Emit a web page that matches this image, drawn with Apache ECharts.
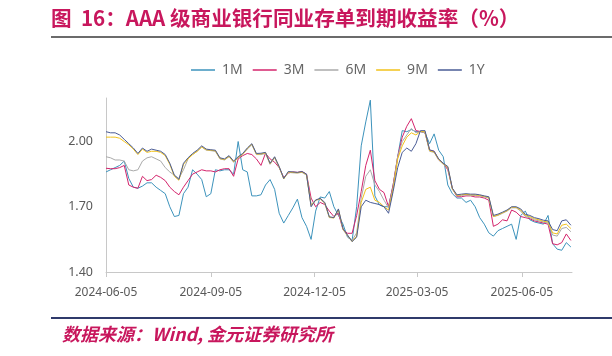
<!DOCTYPE html>
<html>
<head>
<meta charset="utf-8">
<script src="https://cdn.jsdelivr.net/npm/echarts@6/dist/echarts.min.js"></script>
<style>
html,body{margin:0;padding:0;background:#fff;}
#chart{width:612px;height:356px;}
</style>
</head>
<body>
<div id="chart"></div>
<script>
const titleText = '图  16：AAA 级商业银行同业存单到期收益率（%）';
const sourceText = '数据来源：Wind, 金元证券研究所';
const seriesNames = ['1M', '3M', '6M', '9M', '1Y'];
const xTickLabels = ['2024-06-05', '2024-09-05', '2024-12-05', '2025-03-05', '2025-06-05'];
const yTickLabels = [1.40, 1.70, 2.00];

const dates = [
'2024-06-05','2024-06-09','2024-06-13','2024-06-17','2024-06-21','2024-06-25','2024-06-29','2024-07-03','2024-07-07','2024-07-11',
'2024-07-15','2024-07-19','2024-07-23','2024-07-27','2024-07-31','2024-08-04','2024-08-08','2024-08-12','2024-08-16','2024-08-20',
'2024-08-24','2024-08-28','2024-09-01','2024-09-05','2024-09-09','2024-09-13','2024-09-17','2024-09-21','2024-09-25','2024-09-29',
'2024-10-03','2024-10-07','2024-10-11','2024-10-15','2024-10-19','2024-10-23','2024-10-27','2024-10-31','2024-11-04','2024-11-08',
'2024-11-12','2024-11-16','2024-11-20','2024-11-24','2024-11-28','2024-12-02','2024-12-06','2024-12-10','2024-12-14','2024-12-18',
'2024-12-22','2024-12-26','2024-12-30','2025-01-03','2025-01-07','2025-01-11','2025-01-15','2025-01-19','2025-01-23','2025-01-27',
'2025-01-31','2025-02-04','2025-02-08','2025-02-12','2025-02-16','2025-02-20','2025-02-24','2025-02-28','2025-03-04','2025-03-08',
'2025-03-12','2025-03-16','2025-03-20','2025-03-24','2025-03-28','2025-04-01','2025-04-05','2025-04-09','2025-04-13','2025-04-17',
'2025-04-21','2025-04-25','2025-04-29','2025-05-03','2025-05-07','2025-05-11','2025-05-15','2025-05-19','2025-05-23','2025-05-27',
'2025-05-31','2025-06-04','2025-06-08','2025-06-12','2025-06-16','2025-06-20','2025-06-24','2025-06-28','2025-07-02','2025-07-06',
'2025-07-10','2025-07-14','2025-07-18'
];

const m1 = [
1.86,1.87,1.88,1.89,1.91,1.83,1.79,1.785,1.795,1.81,
1.81,1.79,1.775,1.76,1.70,1.655,1.66,1.76,1.79,1.87,
1.85,1.825,1.746,1.76,1.87,1.865,1.87,1.87,1.85,2.00,
1.87,1.86,1.75,1.75,1.755,1.80,1.825,1.78,1.67,1.625,
1.66,1.695,1.735,1.65,1.61,1.55,1.68,1.745,1.74,1.77,
1.70,1.66,1.62,1.56,1.545,1.70,1.98,2.09,2.19,1.75,
1.708,1.70,1.70,1.80,1.93,2.05,2.045,2.055,2.045,2.046,
2.04,1.99,2.035,1.96,1.93,1.80,1.76,1.74,1.74,1.72,
1.73,1.70,1.65,1.62,1.58,1.565,1.59,1.60,1.61,1.62,
1.55,1.66,1.68,1.64,1.63,1.625,1.62,1.66,1.53,1.505,
1.50,1.535,1.515
];
const m3 = [
1.877,1.875,1.875,1.88,1.89,1.80,1.79,1.785,1.84,1.82,
1.825,1.845,1.835,1.82,1.79,1.77,1.755,1.79,1.82,1.85,
1.86,1.87,1.865,1.865,1.86,1.87,1.875,1.875,1.84,1.92,
1.935,1.945,1.94,1.92,1.89,1.946,1.92,1.905,1.88,1.835,
1.855,1.86,1.858,1.862,1.85,1.74,1.70,1.72,1.71,1.68,
1.655,1.67,1.595,1.578,1.578,1.66,1.77,1.89,1.96,1.82,
1.78,1.765,1.70,1.80,1.93,2.02,2.07,2.105,2.05,2.046,
2.04,1.96,1.955,1.915,1.90,1.87,1.785,1.746,1.746,1.75,
1.75,1.745,1.745,1.74,1.73,1.61,1.62,1.64,1.635,1.685,
1.675,1.655,1.65,1.645,1.635,1.63,1.625,1.62,1.53,1.525,
1.535,1.575,1.545
];
const m6 = [
1.93,1.925,1.915,1.915,1.91,1.87,1.865,1.87,1.91,1.925,
1.93,1.92,1.91,1.88,1.86,1.845,1.83,1.87,1.92,1.94,
1.955,1.975,1.96,1.958,1.955,1.92,1.915,1.93,1.905,1.925,
1.94,1.965,1.985,1.94,1.94,1.945,1.895,1.925,1.88,1.83,
1.858,1.856,1.855,1.858,1.845,1.71,1.73,1.735,1.715,1.65,
1.65,1.685,1.595,1.565,1.545,1.58,1.74,1.84,1.87,1.80,
1.77,1.73,1.695,1.79,1.93,2.00,2.03,2.06,2.04,2.045,
2.04,1.955,1.95,1.915,1.895,1.88,1.78,1.75,1.752,1.755,
1.752,1.752,1.75,1.745,1.74,1.655,1.66,1.67,1.68,1.695,
1.695,1.68,1.655,1.65,1.64,1.635,1.63,1.625,1.57,1.565,
1.60,1.605,1.585
];
const m9 = [
2.02,2.02,2.02,2.015,2.00,1.985,1.965,1.94,1.965,1.95,
1.955,1.955,1.95,1.935,1.895,1.84,1.822,1.895,1.92,1.94,
1.955,1.975,1.962,1.96,1.957,1.922,1.917,1.932,1.907,1.927,
1.942,1.967,1.988,1.942,1.943,1.948,1.898,1.928,1.883,1.828,
1.86,1.858,1.856,1.86,1.848,1.705,1.73,1.737,1.718,1.652,
1.648,1.688,1.598,1.568,1.54,1.565,1.72,1.78,1.79,1.73,
1.72,1.70,1.685,1.78,1.92,1.98,2.02,2.04,2.03,2.046,
2.045,1.958,1.952,1.918,1.898,1.882,1.782,1.752,1.755,1.757,
1.755,1.755,1.752,1.748,1.743,1.655,1.662,1.672,1.682,1.698,
1.697,1.685,1.66,1.655,1.645,1.64,1.633,1.63,1.58,1.575,
1.615,1.62,1.60
];
const y1 = [
2.045,2.04,2.04,2.03,2.01,1.99,1.97,1.945,1.97,1.955,
1.965,1.96,1.955,1.94,1.90,1.845,1.826,1.90,1.925,1.945,
1.96,1.98,1.965,1.962,1.96,1.925,1.92,1.935,1.91,1.93,
1.945,1.97,1.99,1.945,1.946,1.95,1.90,1.93,1.885,1.83,
1.862,1.86,1.858,1.862,1.85,1.70,1.731,1.739,1.72,1.654,
1.65,1.69,1.60,1.57,1.54,1.56,1.70,1.73,1.72,1.715,
1.71,1.70,1.67,1.77,1.88,1.95,1.97,1.955,1.99,2.05,
2.05,1.962,1.955,1.92,1.90,1.885,1.785,1.755,1.758,1.76,
1.758,1.758,1.755,1.75,1.746,1.66,1.666,1.675,1.685,1.70,
1.70,1.69,1.665,1.66,1.65,1.645,1.638,1.635,1.595,1.59,
1.635,1.64,1.615
];

const colors = ['#3D93BC', '#D4246C', '#AAAAAA', '#F2C21B', '#4A5C96'];

function ts(s) { const p = s.split('-').map(Number); return new Date(p[0], p[1] - 1, p[2]).getTime(); }
function pad(n) { return (n < 10 ? '0' : '') + n; }
const seriesData = [m1, m3, m6, m9, y1];
const xTickValues = xTickLabels.map(ts);

const chart = echarts.init(document.getElementById('chart'), null, { renderer: 'canvas' });
const option = {
  animation: false,
  backgroundColor: '#ffffff',
  color: colors,
  grid: { left: 106, right: 40, top: 98, bottom: 84 },
  legend: {
    data: seriesNames,
    icon: 'rect',
    left: 186, top: 58,
    itemWidth: 24, itemHeight: 1.5, itemGap: 10,
    textStyle: { color: '#666666', fontSize: 14, fontFamily: 'Noto Sans', padding: [0, 0, 0, 2] }
  },
  xAxis: {
    type: 'value',
    min: ts('2024-06-05'),
    max: ts('2025-07-19'),
    axisLine: { lineStyle: { color: '#C8C8C8' } },
    axisTick: { show: true, length: 5, customValues: xTickValues, lineStyle: { color: '#C8C8C8' } },
    axisLabel: {
      customValues: xTickValues,
      color: '#595959', fontSize: 12, fontFamily: 'Noto Sans', margin: 15,
      formatter: function (v) { const d = new Date(v); return d.getFullYear() + '-' + pad(d.getMonth() + 1) + '-' + pad(d.getDate()); }
    },
    splitLine: { show: false }
  },
  yAxis: {
    type: 'value',
    min: 1.4, max: 2.2,
    axisLine: { show: true, lineStyle: { color: '#C8C8C8' } },
    axisTick: { show: false },
    splitLine: { show: false },
    axisLabel: {
      customValues: yTickLabels,
      color: '#595959', fontSize: 12.5, fontFamily: 'Noto Sans', margin: 13,
      formatter: function (v) { return v.toFixed(2); }
    }
  },
  series: seriesNames.map(function (n, k) {
    return {
      name: n, type: 'line', symbol: 'none', showSymbol: false,
      lineStyle: { width: 1, color: colors[k] },
      itemStyle: { color: colors[k] },
      data: dates.map(function (d, i) { return [ts(d), seriesData[k][i]]; })
    };
  }),
  graphic: [
    { type: 'text', left: 51, top: 8, style: { text: titleText, fill: '#C8175D', font: 'bold 20.6px "Noto Sans CJK SC"' } },
    { type: 'line', shape: { x1: 51, y1: 37, x2: 612, y2: 37 }, style: { stroke: '#3A3A3A', lineWidth: 1.5 } },
    { type: 'line', shape: { x1: 51, y1: 318, x2: 612, y2: 318 }, style: { stroke: '#2F3A6B', lineWidth: 2 } },
    { type: 'text', left: 62, top: 325, style: { text: sourceText, fill: '#C8175D', font: 'italic bold 18px "Noto Sans CJK SC"' } }
  ]
};
chart.setOption(option);
</script>
</body>
</html>
